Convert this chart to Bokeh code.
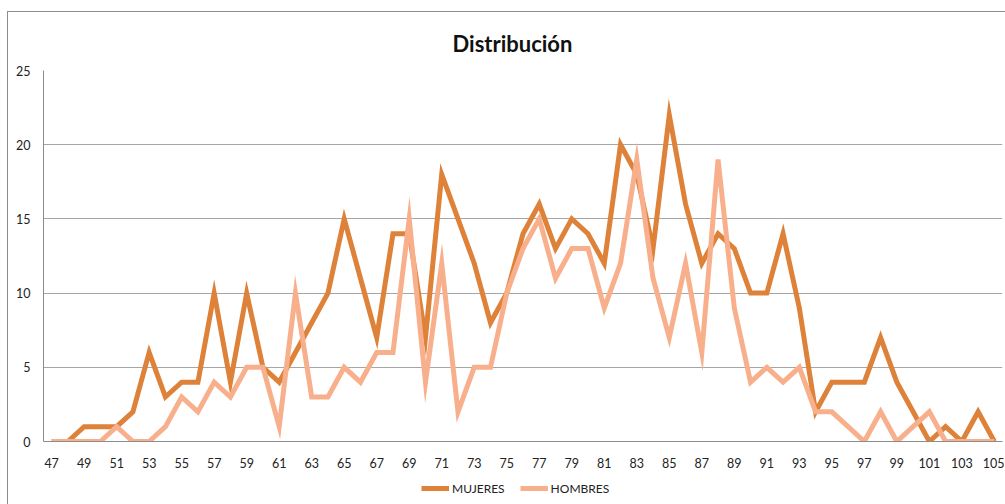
from bokeh.plotting import figure
from bokeh.layouts import column
from bokeh.models import ColumnDataSource, FixedTicker, Legend, LegendItem, InlineStyleSheet
from bokeh.embed import file_html
from bokeh.resources import INLINE

edades = list(range(47, 106))
mujeres = [0, 0, 1, 1, 1, 2, 6, 3, 4, 4, 10, 4, 10, 5, 4, 6, 8, 10, 15, 11,
           7, 14, 14, 7, 18, 15, 12, 8, 10, 14, 16, 13, 15, 14, 12, 20, 18, 13,
           22, 16, 12, 14, 13, 10, 10, 14, 9, 2, 4, 4, 4, 7, 4, 2, 0, 1, 0, 2, 0]
hombres = [0, 0, 0, 0, 1, 0, 0, 1, 3, 2, 4, 3, 5, 5, 1, 10, 3, 3, 5, 4,
           6, 6, 15, 4, 12, 2, 5, 5, 10, 13, 15, 11, 13, 13, 9, 12, 19, 11,
           7, 12, 6, 19, 9, 4, 5, 4, 5, 2, 2, 1, 0, 2, 0, 1, 2, 0, 0, 0, 0]
x_ticks = list(range(47, 106, 2))
y_ticks = [0, 5, 10, 15, 20, 25]
series_names = ["MUJERES", "HOMBRES"]

src = ColumnDataSource(dict(x=edades, m=mujeres, h=hombres))

FONT = "Lato"
C_M = "#DE8139"
C_H = "#F8B08C"
LW = 5

# main chart
p = figure(width=1004, height=470, output_backend="svg", toolbar_location=None,
           x_range=(46.5, 105.5), y_range=(0, 25),
           min_border_left=43, min_border_right=2, min_border_top=70, min_border_bottom=29)
p.background_fill_color = "white"
p.border_fill_color = "white"
p.outline_line_color = None

p.title.text = "Distribución"
p.title.align = "left"
p.title.text_font = FONT
p.title.text_font_size = "22px"
p.title.text_font_style = "bold"
p.title.text_color = "#111111"
p.title.offset = 409
p.title.standoff = 27

p.xgrid.grid_line_color = None
p.ygrid.grid_line_color = "#A6A6A6"
p.ygrid.grid_line_width = 1
p.ygrid.ticker = FixedTicker(ticks=y_ticks)

p.xaxis.ticker = FixedTicker(ticks=x_ticks)
p.yaxis.ticker = FixedTicker(ticks=y_ticks)
for ax in (p.xaxis[0], p.yaxis[0]):
    ax.axis_line_color = "#8C8C8C"
    ax.major_tick_line_color = None
    ax.minor_tick_line_color = None
    ax.major_tick_out = 0
    ax.major_tick_in = 0
    ax.minor_tick_out = 0
    ax.major_label_text_font = FONT
    ax.major_label_text_font_size = "12.5px"
    ax.major_label_text_color = "#222222"
p.yaxis.major_label_standoff = 13
p.xaxis.major_label_standoff = 16

p.line("x", "m", source=src, line_color=C_M, line_width=LW, line_join="miter")
p.line("x", "h", source=src, line_color=C_H, line_width=LW, line_join="miter")

# legend strip
lg = figure(width=1004, height=34, output_backend="svg", toolbar_location=None,
            x_range=(0, 1), y_range=(1000, 1001),
            x_axis_location=None, y_axis_location=None,
            min_border=0, min_border_left=0, min_border_right=0,
            min_border_top=0, min_border_bottom=0)
lg.grid.visible = False
lg.outline_line_color = None
lg.background_fill_color = "white"
lg.border_fill_color = "white"
lr_m = lg.line("x", "m", source=src, line_color=C_M, line_width=LW)
lr_h = lg.line("x", "h", source=src, line_color=C_H, line_width=LW)

legend = Legend(items=[LegendItem(label=series_names[0], renderers=[lr_m]),
                       LegendItem(label=series_names[1], renderers=[lr_h])],
                orientation="horizontal", location=(378, 6),
                glyph_width=28, glyph_height=20, label_standoff=3, spacing=15,
                padding=0, margin=0, border_line_color=None, background_fill_alpha=0,
                label_text_font=FONT, label_text_font_size="12px", label_text_color="#222222")
lg.add_layout(legend, "center")

layout = column(p, lg, spacing=0)
layout.stylesheets = [InlineStyleSheet(css=(
    ":host { position: relative; }"
    ":host::after { content: ''; position: absolute; left: 7px; top: 11px; "
    "width: 1100px; height: 600px; border: 1px solid #8C8C8C; "
    "pointer-events: none; box-sizing: border-box; }"))]

open("out.html", "w").write(file_html(layout, INLINE))
